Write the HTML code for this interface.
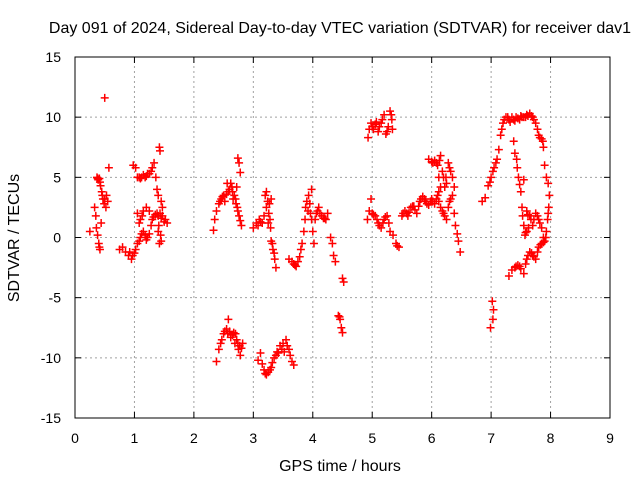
<!DOCTYPE html>
<html><head><meta charset="utf-8"><style>
body{margin:0;background:#fff}
svg text{font-family:"Liberation Sans",sans-serif;fill:#000}
</style></head><body>
<svg id="chart" width="640" height="480" xmlns="http://www.w3.org/2000/svg">
<rect width="640" height="480" fill="#fff"/>
<text x="340" y="33" font-size="16" text-anchor="middle">Day 091 of 2024, Sidereal Day-to-day VTEC variation (SDTVAR) for receiver dav1</text>
<g id="grid"></g>
<g id="ticks"></g>
<g id="marks"></g>
<rect x="75" y="57" width="535" height="361" fill="none" stroke="#000" stroke-width="1"/>
<text x="340" y="471" font-size="16" text-anchor="middle">GPS time / hours</text>
<text transform="translate(19,238) rotate(-90)" font-size="16" text-anchor="middle">SDTVAR / TECUs</text>
</svg>
<script>
const xTicks=[0,1,2,3,4,5,6,7,8,9];
const yTicks=[-15,-10,-5,0,5,10,15];
const seriesA=[[0.25,0.5],[0.33,2.5],[0.35,1.8],[0.36,0.8],[0.38,0.2],[0.40,-0.5],[0.42,-1],[0.37,5],[0.39,4.8],[0.41,4.9],[0.43,4.3],[0.45,3.8],[0.47,3.2],[0.49,2.8],[0.52,2.5],[0.44,1.2],[0.50,11.6],[0.57,5.8],[0.53,3.5],[0.55,3.0],[0.38,4.9],[0.42,4.6],[0.46,3.5],[0.5,3.2],[0.41,-0.8]];
const seriesB=[[0.75,-1],[0.8,-0.8],[0.85,-1.2],[0.9,-1.5],[0.95,-1.8],[1.0,-1.3],[1.05,-0.5],[1.1,0],[1.15,0.5],[1.2,-0.2],[1.25,0.3],[1.3,1.5],[1.35,1.9],[1.4,1.8],[1.45,1.6],[1.5,1.3],[1.55,1.2],[1.05,2],[1.1,1.5],[1.15,2.2],[0.98,6],[1.02,5.8],[1.05,5],[1.1,4.9],[1.15,5.2],[1.2,5.1],[1.25,5.3],[1.3,5.8],[1.33,6.2],[1.36,5],[1.38,4],[1.4,3.5],[1.42,7.5],[1.43,7.2],[1.45,3],[1.47,2.5],[1.43,2],[1.4,0.5],[1.42,-0.5],[1.45,-0.3],[0.92,-1.2],[0.97,-1.5],[1.02,-1.0],[1.08,-0.3],[1.12,0.3],[1.18,0.2],[1.22,0],[1.28,1],[1.32,1.7],[1.38,2],[1.08,5],[1.12,5],[1.18,5],[1.22,5.3],[1.28,5.5],[1.08,1.2],[1.13,1.8],[1.2,2.5],[1.25,2.2],[1.41,1],[1.44,0.2],[1.47,1.8],[1.52,1.5]];
const seriesC=[[2.33,0.6],[2.35,1.5],[2.38,2.2],[2.42,2.8],[2.46,3.2],[2.5,3.5],[2.55,3.6],[2.6,4],[2.62,4.5],[2.65,3.8],[2.68,3.5],[2.7,3.2],[2.73,2.5],[2.76,1.8],[2.8,1],[2.74,6.6],[2.76,6.2],[2.78,5.4],[2.72,4.2],[2.56,4.5],[2.52,3],[2.44,3],[2.48,3.4],[2.58,3.8],[2.64,4.2],[2.66,3.2],[2.71,2.8],[2.74,2.2],[2.78,1.4]];
const seriesD=[[2.38,-10.3],[2.42,-9.3],[2.45,-8.8],[2.5,-8],[2.55,-7.6],[2.58,-6.8],[2.6,-7.8],[2.65,-8.1],[2.7,-8],[2.72,-8.5],[2.75,-9.3],[2.78,-9.8],[2.8,-9.2],[2.82,-8.8],[2.47,-8.5],[2.52,-7.8],[2.57,-8],[2.62,-8.3],[2.67,-7.9],[2.69,-8.8],[2.74,-8.8],[2.77,-9]];
const seriesE=[[3.0,0.8],[3.05,1.2],[3.1,1.5],[3.15,1.2],[3.18,1.8],[3.2,3.5],[3.22,3.8],[3.24,3],[3.26,2],[3.28,1.5],[3.3,-0.3],[3.33,-1],[3.36,-1.8],[3.38,-2.5],[3.3,3.2],[3.27,2.8],[3.08,1],[3.12,1.3],[3.22,2.5],[3.25,1.2],[3.29,0.8],[3.32,-0.5],[3.35,-1.3]];
const seriesF=[[3.08,-10.2],[3.12,-9.6],[3.15,-10.5],[3.2,-11.3],[3.25,-11.2],[3.3,-10.8],[3.35,-10],[3.4,-9.5],[3.45,-9],[3.5,-8.8],[3.55,-8.5],[3.6,-9.3],[3.65,-10.3],[3.68,-10.6],[3.52,-9.5],[3.18,-11],[3.22,-11.4],[3.28,-11],[3.32,-10.4],[3.38,-9.8],[3.42,-9.6],[3.48,-9.3],[3.57,-9],[3.62,-9.8]];
const seriesG=[[3.6,-1.8],[3.65,-2],[3.7,-2.3],[3.75,-2],[3.8,-1],[3.85,0.5],[3.88,2.5],[3.9,3],[3.93,3.5],[3.95,2.8],[3.98,1.5],[4.0,0.5],[4.02,-0.5],[4.04,1.5],[4.06,2],[4.1,2.5],[4.15,1.8],[4.2,1.6],[4.25,2],[4.3,0],[4.33,-0.5],[4.35,-1.5],[4.38,-2],[3.98,4],[3.92,2.2],[3.68,-2.2],[3.72,-2.4],[3.78,-1.6],[3.82,-0.5],[3.87,1.5],[3.96,2],[4.08,2.2],[4.12,2],[4.18,1.6],[4.22,1.5]];
const seriesH=[[4.5,-3.4],[4.52,-3.7],[4.43,-6.5],[4.46,-6.8],[4.48,-7.5],[4.5,-7.9],[4.45,-6.6]];
const seriesI=[[4.93,8.3],[4.95,9],[4.98,9.5],[5.0,9.2],[5.05,9.4],[5.1,8.8],[5.15,9.5],[5.2,10.2],[5.23,8.6],[5.27,9.2],[5.3,10.5],[5.33,9.8],[5.34,9],[5.02,9],[5.07,9.6],[5.12,9.2],[5.17,9.8],[5.25,8.8],[5.32,10.2]];
const seriesJ=[[4.92,1.5],[4.95,2.2],[4.98,3.2],[5.0,2],[5.05,1.8],[5.1,1.2],[5.15,0.8],[5.2,1.5],[5.25,1.8],[5.3,0.5],[5.35,0.2],[5.4,-0.5],[5.45,-0.8],[5.5,1.8],[5.55,2.2],[5.6,1.8],[5.65,2.5],[5.7,2.6],[5.75,2],[5.8,3],[5.85,3.4],[5.9,3],[5.95,2.7],[6.0,3.2],[6.05,2.8],[6.1,3.5],[6.15,2.5],[6.2,2],[6.25,1.5],[6.3,3],[6.35,3.5],[6.4,1],[6.43,0.3],[6.45,-0.3],[6.48,-1.2],[5.95,6.5],[6.0,6.3],[6.05,6.4],[6.1,6],[6.15,6.8],[6.2,5],[6.25,4.5],[6.28,6.2],[6.3,5.8],[6.35,5],[6.38,4.2],[6.18,5.5],[6.12,3.8],[6.22,4.2],[5.02,1.9],[5.08,1.5],[5.12,1],[5.18,1.2],[5.22,1.7],[5.28,1.2],[5.42,-0.7],[5.52,2],[5.58,2],[5.62,2.1],[5.68,2.6],[5.72,2.3],[5.78,2.6],[5.82,3.2],[5.88,3.2],[5.92,2.8],[5.98,3],[6.02,3],[6.08,3.2],[6.12,3],[6.18,2.2],[6.22,1.8],[6.28,2.5],[6.32,3.2],[6.38,2],[6.02,6.2],[6.08,6.2],[6.13,6.4],[6.24,5],[6.32,5.5],[6.12,5],[6.15,4.2]];
const seriesK=[[6.85,3],[6.9,3.3],[6.95,4.3],[7.0,5],[7.05,5.8],[7.1,6.5],[7.13,7.3],[7.16,8.5],[7.2,9.5],[7.25,10],[7.3,9.8],[7.35,10],[7.4,9.7],[7.45,9.9],[7.5,10.1],[7.55,10],[7.6,10.2],[7.65,10.3],[7.7,10],[7.75,9.5],[7.8,8.5],[7.85,8.2],[7.88,7.5],[7.9,6],[7.93,5],[7.96,4.5],[7.38,8],[7.4,7],[7.43,6.5],[7.46,5],[7.5,3.8],[7.52,2.5],[7.55,1],[7.57,0.2],[7.6,0.5],[7.63,0.8],[7.55,4.8],[7.6,2.2],[7.65,1.8],[7.7,1],[7.75,2],[7.8,1.5],[7.85,0.8],[7.88,0],[7.9,-0.3],[7.95,1.5],[7.97,2.5],[7.93,0.5],[7.3,-3.2],[7.35,-2.7],[7.4,-2.5],[7.45,-2.3],[7.5,-2.6],[7.55,-3],[7.6,-1.8],[7.65,-1.2],[7.7,-1.5],[7.75,-1.8],[7.8,-0.8],[7.85,-0.5],[6.98,4.6],[7.03,5.5],[7.08,6.2],[7.18,9],[7.22,9.8],[7.28,10],[7.32,9.6],[7.38,9.8],[7.42,10],[7.48,9.8],[7.52,10],[7.58,10],[7.62,10.1],[7.68,10.1],[7.72,9.8],[7.78,9],[7.82,8.3],[7.87,8],[7.44,5.8],[7.48,4.4],[7.53,1.8],[7.58,0.4],[7.62,1.9],[7.67,1.5],[7.72,1.5],[7.78,1.8],[7.82,1.2],[7.98,3.5],[7.96,2],[7.92,0],[7.42,-2.4],[7.48,-2.4],[7.58,-2.2],[7.62,-1.5],[7.68,-1.3],[7.72,-1.6],[7.78,-1.2],[7.83,-0.6],[7.88,-0.4]];
const seriesL=[[7.02,-5.3],[7.04,-6],[7.03,-6.8],[6.99,-7.5]];
const allSeries=[seriesA,seriesB,seriesC,seriesD,seriesE,seriesF,seriesG,seriesH,seriesI,seriesJ,seriesK,seriesL];

const NS="http://www.w3.org/2000/svg";
const X0=75,X1=610,Y0=418,Y1=57;
function sx(t){return X0+(t-0)/(9-0)*(X1-X0);}
function sy(v){return Y0-(v+15)/30*(Y0-Y1);}
function mk(tag,attrs,parent){const e=document.createElementNS(NS,tag);for(const k in attrs)e.setAttribute(k,attrs[k]);parent.appendChild(e);return e;}
const grid=document.getElementById('grid'),ticks=document.getElementById('ticks'),marks=document.getElementById('marks');
xTicks.forEach(t=>{const x=sx(t);
 if(t>0&&t<9){const g=mk('line',{x1:x,x2:x,y1:Y0,y2:Y1,stroke:'#a0a0a0','stroke-dasharray':'2,3'},grid);
 
 }
 mk('line',{x1:x,x2:x,y1:Y0,y2:Y0-6,stroke:'#000'},ticks);
 mk('line',{x1:x,x2:x,y1:Y1,y2:Y1+6,stroke:'#000'},ticks);
 const l=mk('text',{x:x,y:443,'font-size':14,'text-anchor':'middle'},ticks);l.textContent=t;
 
 
});
yTicks.forEach(v=>{const y=sy(v);
 if(v>-15&&v<15){const g=mk('line',{x1:X0,x2:X1,y1:y,y2:y,stroke:'#a0a0a0','stroke-dasharray':'2,3'},grid);
 
 }
 mk('line',{x1:X0,x2:X0+6,y1:y,y2:y,stroke:'#000'},ticks);
 mk('line',{x1:X1,x2:X1-6,y1:y,y2:y,stroke:'#000'},ticks);
 const l=mk('text',{x:61,y:y+5,'font-size':14,'text-anchor':'end'},ticks);l.textContent=v;
 
 
});
allSeries.forEach(s=>s.forEach(p=>{const x=sx(p[0]),y=sy(p[1]);
 const m=mk('path',{d:`M${x-4},${y}H${x+4}M${x},${y-4}V${y+4}`,stroke:'#ff0000','stroke-width':1.5,fill:'none'},marks);
 
 
}));
</script>
</body></html>
